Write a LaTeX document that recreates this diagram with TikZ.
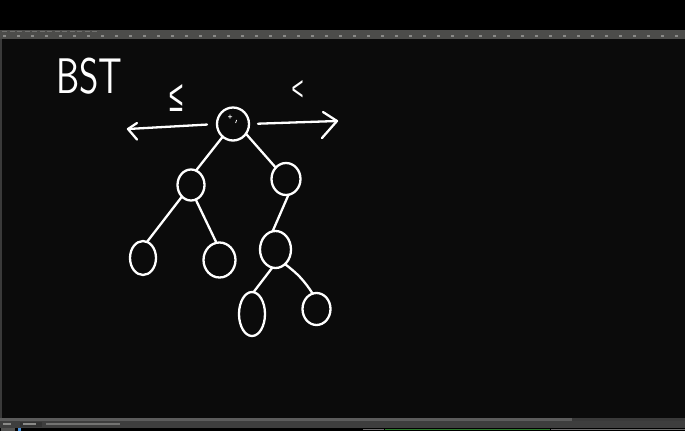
\documentclass[tikz,border=0pt]{standalone}
\usepackage{graphicx}
\usepackage{fontspec}
\newfontfamily\symfont{Liberation Sans}
\usetikzlibrary{shapes.geometric}
\definecolor{canvas}{HTML}{0B0B0B}
\definecolor{barcol}{HTML}{4C4C4A}
\definecolor{tickcol}{HTML}{8A8A88}
\definecolor{scrollA}{HTML}{5C5C5C}
\definecolor{scrollB}{HTML}{3A3A3A}
\definecolor{statcol}{HTML}{3E3E3E}
\definecolor{greentxt}{HTML}{2E7A2E}
\definecolor{greytxt}{HTML}{6E6E6E}
\definecolor{iconblue}{HTML}{4A90D9}
\begin{document}
\begin{tikzpicture}[x=1pt,y=-1pt,
  ink/.style={draw=white, line width=2.3pt, line cap=round, line join=round},
  nd/.style={ellipse, ink, inner sep=0pt, outer sep=0pt},
  hand/.style={text=white, inner sep=0pt}]
\useasboundingbox (0,0) rectangle (685,431);
% window chrome
\fill[black] (0,0) rectangle (685,431);
\fill[barcol] (0,30) rectangle (685,39);
\fill[canvas] (0,39) rectangle (685,417.5);
\fill[scrollB] (0,39) rectangle (1.5,417.5);
\foreach \i in {0,...,48} {\fill[tickcol] (3+14*\i,35.4) rectangle (5.5+14*\i,37);}
\foreach \i in {0,...,12} {\fill[tickcol!60!barcol] (2+7.5*\i,31.2) rectangle (7+7.5*\i,32.4);}
\fill[scrollB] (0,417.5) rectangle (685,420.5);
\fill[scrollA] (0,417.5) rectangle (572,420.5);
\fill[statcol] (0,420.5) rectangle (685,427.5);
\fill[black!80] (20,421.5) rectangle (42,426.5);
\fill[tickcol] (3,423.3) rectangle (11,424.6);
\fill[tickcol] (23,423.3) rectangle (36,424.6);
\fill[tickcol!70!statcol] (46,423.3) rectangle (120,424.5);
\fill[black] (0,427.5) rectangle (685,431);
\fill[tickcol!60!black] (1,428.4) rectangle (15,430.6);
\fill[iconblue] (18,428) rectangle (21,431);
\fill[greytxt] (363,428.8) rectangle (384,430.4);
\fill[greentxt] (385,428.8) rectangle (550,430.4);
\fill[greytxt] (551,428.8) rectangle (685,430.4);

% handwriting
\node[hand, anchor=base west] (title) at (56,93)
  {\scalebox{0.74}[1]{\fontsize{50}{50}\selectfont\sffamily BST}};
\node[hand] (le) at (176.5,98) {\resizebox{14pt}{27pt}{\fontsize{48}{48}\selectfont\symfont ≤}};
\node[hand] (lt) at (297.5,90) {\resizebox{12pt}{20pt}{\fontsize{36}{36}\selectfont\symfont <}};

% tree nodes
\node[nd, minimum width=32pt, minimum height=33pt] (root) at (233,124) {};
\node[nd, minimum width=27pt, minimum height=31pt] (L) at (191,185) {};
\node[nd, minimum width=29pt, minimum height=32pt] (R) at (286,179) {};
\node[nd, minimum width=26pt, minimum height=34pt] (LL) at (143,258) {};
\node[nd, minimum width=32pt, minimum height=35pt] (LR) at (219.5,260) {};
\node[nd, minimum width=31pt, minimum height=37pt] (RL) at (275.5,249.5) {};
\node[nd, minimum width=26pt, minimum height=44pt] (RLL) at (252,314) {};
\node[nd, minimum width=28pt, minimum height=32pt] (RLR) at (316.5,309) {};

% cursor marks in root
\draw[white, line width=0.8pt] (228,116.7) -- (232,116.7) (230,114.7) -- (230,118.7)
  (236.6,120) -- (235.6,123);

% edges
\draw[ink] (root.231) -- (L.71);
\draw[ink] (root.323) -- (R.132);
\draw[ink] (L.232) -- (LL.76);
\draw[ink] (L.288) -- (LR.100);
\draw[ink] (R.279) -- (RL.99);
\draw[ink] (RL.260) -- (RLL.86);
\draw[ink] (RL.303) to[bend left=10] (RLR.104);

% direction arrows
\coordinate (la) at (128,129);
\coordinate (ra) at (337,121);
\draw[ink, shorten <=10pt] (root.west) -- (la);
\draw[ink] (la) ++(9,-6) -- (la) -- ++(9,10.5);
\draw[ink, shorten <=9pt] (root.east) -- (ra);
\draw[ink] (ra) ++(-14,-9) -- (ra) -- ++(-15,17);
\end{tikzpicture}
\end{document}
